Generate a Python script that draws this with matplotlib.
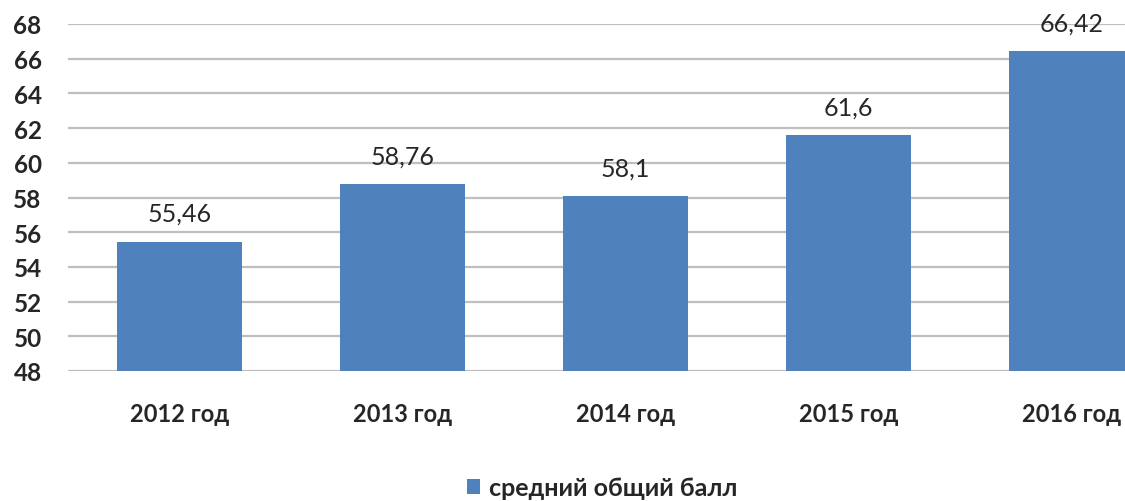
import matplotlib.pyplot as plt
import numpy as np

years = ["2012 год", "2013 год", "2014 год", "2015 год", "2016 год"]
scores = [55.46, 58.76, 58.1, 61.6, 66.42]
score_labels = ["55,46", "58,76", "58,1", "61,6", "66,42"]
series_name = "средний общий балл"

plt.rcParams['font.family'] = ['Lato', 'DejaVu Sans']

fig = plt.figure(figsize=(11.25, 5.02), dpi=100)
# the original picture is cropped on the right, so the axes runs past the figure edge
ax = fig.add_axes([68 / 1125, 1 - 372 / 502, 1115 / 1125, 347 / 502])

ind = np.arange(len(years))
bars = ax.bar(ind, scores, width=0.565, color="#4F81BD", zorder=3,
              label=series_name)
ax.set_xlim(-0.5, len(years) - 0.5)
ax.set_ylim(48, 68)
ax.set_yticks(np.arange(48, 70, 2))
ax.yaxis.grid(True, color="#BFBFBF", linewidth=1.6, zorder=0)
ax.set_axisbelow(True)
for s in ax.spines.values():
    s.set_visible(False)
ax.tick_params(axis="both", length=0)
ax.tick_params(axis="y", pad=19, labelsize=17.5, labelcolor="#262626")
ax.tick_params(axis="x", pad=22, labelsize=17, labelcolor="#262626")
for t in ax.get_yticklabels():
    t.set_fontweight("bold")
ax.set_xticks(ind)
ax.set_xticklabels(years, fontweight="bold")

for x, v, lab in zip(ind, scores, score_labels):
    ax.annotate(lab, (x, v), xytext=(0, 12), textcoords="offset points",
                ha="center", va="bottom", fontsize=18, color="#262626")

fig.legend(handles=[bars], labels=[series_name], loc="center",
           bbox_to_anchor=(602 / 1125, 1 - 489 / 502), frameon=False,
           prop={"size": 18, "weight": "bold"}, handlelength=0.55,
           handleheight=0.55, handletextpad=0.35, labelcolor="#262626")

fig.savefig("out.png", dpi=100)
